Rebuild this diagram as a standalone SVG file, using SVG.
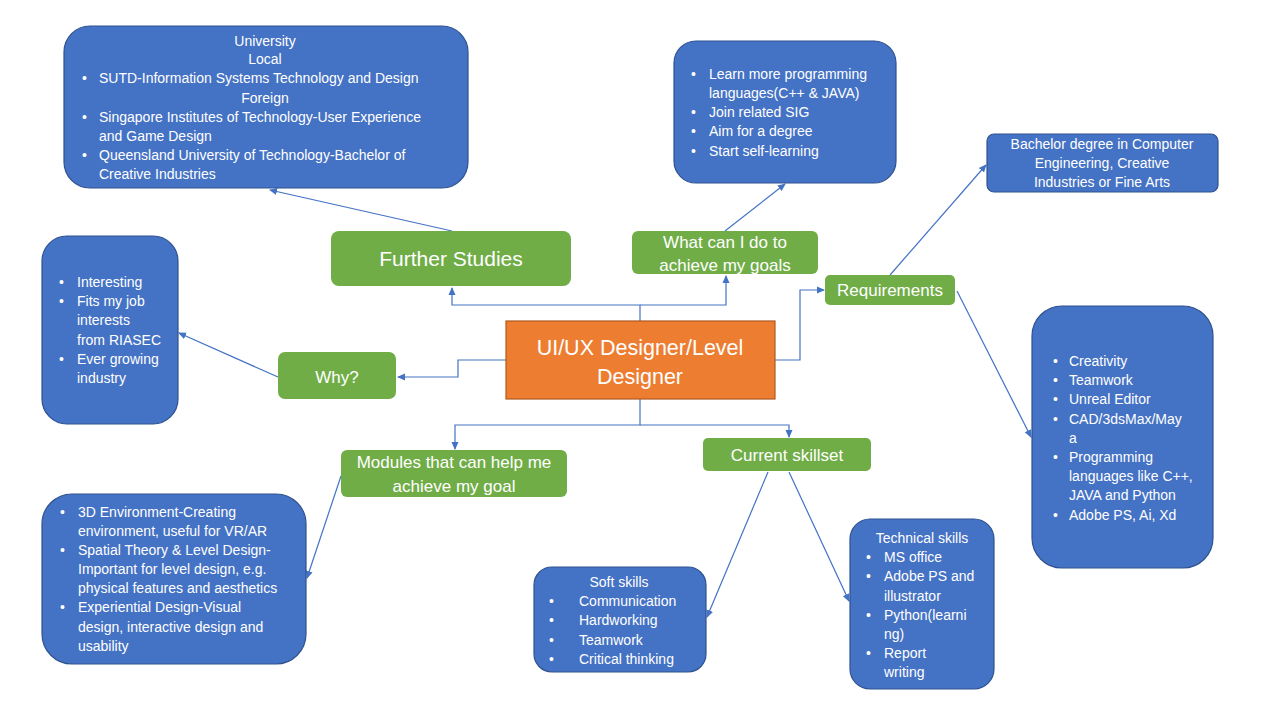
<svg xmlns="http://www.w3.org/2000/svg" width="1280" height="720" viewBox="0 0 1280 720">
<defs>
<marker id="arr" markerWidth="8" markerHeight="8" refX="7" refY="4" orient="auto" markerUnits="userSpaceOnUse">
<path d="M0,0.5 L8,4 L0,7.5 Z" fill="#4472C4"/>
</marker>
</defs>
<style>
.blue{fill:#4472C4;stroke:#2F528F;stroke-width:1.2}
.green{fill:#70AD47;stroke:none}
.orange{fill:#ED7D31;stroke:#AE5A21;stroke-width:1.2}
text{font-family:"Liberation Sans",Arial,sans-serif;fill:#FFFFFF}
.t{font-size:14px}
.c{text-anchor:middle}
.g{font-size:17px}
.con{fill:none;stroke:#4472C4;stroke-width:1.2;marker-end:url(#arr)}
</style>
<rect width="1280" height="720" fill="#FFFFFF"/>

<g id="connectors">
<polyline class="con" points="640,321 640,305 452,305 452,288"/>
<polyline class="con" points="640,305 726,305 726,276"/>
<polyline class="con" points="775,360 800,360 800,290 824,290"/>
<polyline class="con" points="506,360 458,360 458,377 398,377"/>
<polyline class="con" points="640,399 640,425 455,425 455,449"/>
<polyline class="con" points="640,425 789,425 789,437"/>
<line class="con" x1="452" y1="231" x2="270" y2="190"/>
<line class="con" x1="725" y1="231" x2="785" y2="184"/>
<line class="con" x1="890" y1="275" x2="986" y2="165"/>
<line class="con" x1="957" y1="291" x2="1031" y2="437"/>
<line class="con" x1="278" y1="377" x2="179" y2="333"/>
<line class="con" x1="341" y1="476" x2="307" y2="578"/>
<line class="con" x1="768" y1="472" x2="707" y2="617"/>
<line class="con" x1="789" y1="472" x2="849" y2="601"/>
</g>

<g id="center">
<rect class="orange" x="506" y="321" width="269" height="78"/>
<text x="640" y="355" font-size="21.5" class="c">UI/UX Designer/Level</text>
<text x="640" y="384" font-size="21.5" class="c">Designer</text>
</g>

<g id="further-studies">
<rect class="green" x="331" y="231" width="240" height="55" rx="8"/>
<text x="451" y="266" font-size="21" class="c">Further Studies</text>
</g>

<g id="what-can-i-do">
<rect class="green" x="632" y="231" width="186" height="43" rx="6"/>
<text x="725" y="248" class="g c">What can I do to</text>
<text x="725" y="271" class="g c">achieve my goals</text>
</g>

<g id="requirements">
<rect class="green" x="825" y="275" width="130" height="30" rx="5"/>
<text x="890" y="296" class="g c">Requirements</text>
</g>

<g id="why">
<rect class="green" x="278" y="352" width="118" height="47" rx="7"/>
<text x="337" y="383" class="g c">Why?</text>
</g>

<g id="modules">
<rect class="green" x="341" y="450" width="226" height="47" rx="6"/>
<text x="454" y="468" class="g c">Modules that can help me</text>
<text x="454" y="492" class="g c">achieve my goal</text>
</g>

<g id="current-skillset">
<rect class="green" x="703" y="438" width="168" height="33" rx="5"/>
<text x="787" y="461" class="g c">Current skillset</text>
</g>

<g id="university">
<rect class="blue" x="64" y="26" width="404" height="162" rx="26"/>
<text x="265" y="46" class="t c">University</text>
<text x="265" y="64" class="t c">Local</text>
<text x="82" y="83" class="t">•</text><text x="99" y="83" class="t">SUTD-Information  Systems Technology and Design</text>
<text x="265" y="103" class="t c">Foreign</text>
<text x="82" y="122" class="t">•</text><text x="99" y="122" class="t">Singapore Institutes of Technology-User Experience</text>
<text x="99" y="141" class="t">and Game Design</text>
<text x="82" y="160" class="t">•</text><text x="99" y="160" class="t">Queensland University of Technology-Bachelor of</text>
<text x="99" y="179" class="t">Creative Industries</text>
</g>

<g id="goals-list">
<rect class="blue" x="674" y="41" width="222" height="142" rx="22"/>
<text x="691" y="79" class="t">•</text><text x="709" y="79" class="t">Learn more programming</text>
<text x="709" y="98" class="t">languages(C++ &amp; JAVA)</text>
<text x="691" y="117" class="t">•</text><text x="709" y="117" class="t">Join related SIG</text>
<text x="691" y="136" class="t">•</text><text x="709" y="136" class="t">Aim for a degree</text>
<text x="691" y="156" class="t">•</text><text x="709" y="156" class="t">Start self-learning</text>
</g>

<g id="bachelor">
<rect class="blue" x="987" y="134" width="231" height="58" rx="7"/>
<text x="1102" y="149" class="t c">Bachelor degree in Computer</text>
<text x="1102" y="168" class="t c">Engineering, Creative</text>
<text x="1102" y="187" class="t c">Industries or Fine Arts</text>
</g>

<g id="requirements-list">
<rect class="blue" x="1032" y="306" width="181" height="262" rx="30"/>
<text x="1053" y="366" class="t">•</text><text x="1069" y="366" class="t">Creativity</text>
<text x="1053" y="385" class="t">•</text><text x="1069" y="385" class="t">Teamwork</text>
<text x="1053" y="404" class="t">•</text><text x="1069" y="404" class="t">Unreal Editor</text>
<text x="1053" y="424" class="t">•</text><text x="1069" y="424" class="t">CAD/3dsMax/May</text>
<text x="1069" y="443" class="t">a</text>
<text x="1053" y="462" class="t">•</text><text x="1069" y="462" class="t">Programming</text>
<text x="1069" y="481" class="t">languages like C++,</text>
<text x="1069" y="500" class="t">JAVA and Python</text>
<text x="1053" y="520" class="t">•</text><text x="1069" y="520" class="t">Adobe PS, Ai, Xd</text>
</g>

<g id="why-list">
<rect class="blue" x="42" y="236" width="136" height="188" rx="25"/>
<text x="59" y="287" class="t">•</text><text x="77" y="287" class="t">Interesting</text>
<text x="59" y="306" class="t">•</text><text x="77" y="306" class="t">Fits my job</text>
<text x="77" y="325" class="t">interests</text>
<text x="77" y="345" class="t">from RIASEC</text>
<text x="59" y="364" class="t">•</text><text x="77" y="364" class="t">Ever growing</text>
<text x="77" y="383" class="t">industry</text>
</g>

<g id="modules-list">
<rect class="blue" x="42" y="494" width="264" height="170" rx="30"/>
<text x="60" y="517" class="t">•</text><text x="78" y="517" class="t">3D Environment-Creating</text>
<text x="78" y="536" class="t">environment,  useful for VR/AR</text>
<text x="60" y="555" class="t">•</text><text x="78" y="555" class="t">Spatial Theory &amp; Level Design-</text>
<text x="78" y="574" class="t">Important  for level design, e.g.</text>
<text x="78" y="593" class="t">physical features and aesthetics</text>
<text x="60" y="612" class="t">•</text><text x="78" y="612" class="t">Experiential Design-Visual</text>
<text x="78" y="632" class="t">design, interactive design and</text>
<text x="78" y="651" class="t">usability</text>
</g>

<g id="soft-skills">
<rect class="blue" x="534" y="567" width="172" height="105" rx="18"/>
<text x="619" y="587" class="t c">Soft skills</text>
<text x="549" y="606" class="t">•</text><text x="579" y="606" class="t">Communication</text>
<text x="549" y="625" class="t">•</text><text x="579" y="625" class="t">Hardworking</text>
<text x="549" y="645" class="t">•</text><text x="579" y="645" class="t">Teamwork</text>
<text x="549" y="664" class="t">•</text><text x="579" y="664" class="t">Critical thinking</text>
</g>

<g id="technical-skills">
<rect class="blue" x="850" y="519" width="144" height="170" rx="20"/>
<text x="922" y="543" class="t c">Technical skills</text>
<text x="866" y="562" class="t">•</text><text x="884" y="562" class="t">MS office</text>
<text x="866" y="581" class="t">•</text><text x="884" y="581" class="t">Adobe PS and</text>
<text x="884" y="601" class="t">illustrator</text>
<text x="866" y="620" class="t">•</text><text x="884" y="620" class="t">Python(learni</text>
<text x="884" y="639" class="t">ng)</text>
<text x="866" y="658" class="t">•</text><text x="884" y="658" class="t">Report</text>
<text x="884" y="677" class="t">writing</text>
</g>
</svg>
